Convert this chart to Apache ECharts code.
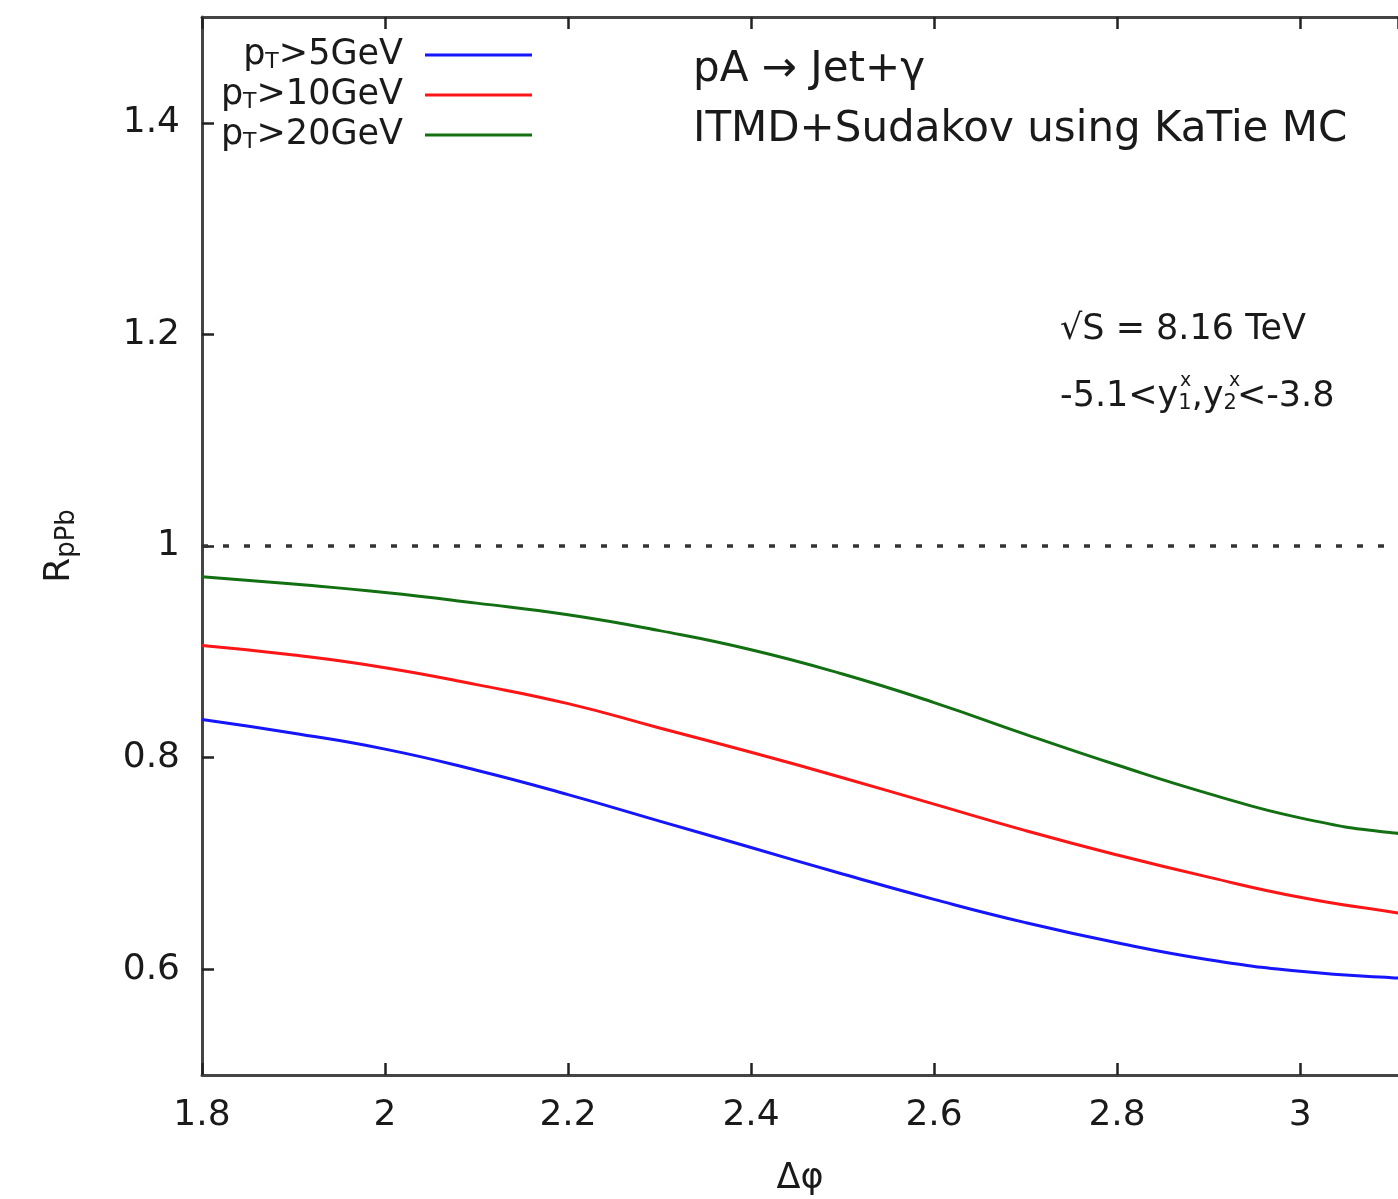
<!DOCTYPE html>
<html>
<head>
<meta charset="utf-8">
<script src="https://cdn.jsdelivr.net/npm/echarts@6/dist/echarts.min.js"></script>
<style>
html,body{margin:0;padding:0;background:#fff;}
#chart{width:1398px;height:1199px;}
</style>
</head>
<body>
<div id="chart"></div>
<script>
// Δφ sample points
const phi = [1.8, 1.9, 2.0, 2.1, 2.2, 2.3, 2.4, 2.5, 2.6, 2.7, 2.8, 2.9, 3.0, 3.1, 3.1416];
// R_pPb values
const pt5  = [0.836, 0.823, 0.808, 0.788, 0.765, 0.740, 0.715, 0.690, 0.666, 0.644, 0.625, 0.609, 0.598, 0.592, 0.591];
const pt10 = [0.906, 0.897, 0.885, 0.869, 0.851, 0.828, 0.805, 0.781, 0.756, 0.731, 0.708, 0.687, 0.668, 0.654, 0.649];
const pt20 = [0.971, 0.964, 0.956, 0.946, 0.935, 0.920, 0.902, 0.879, 0.852, 0.822, 0.793, 0.766, 0.743, 0.729, 0.727];
const seriesNames = ['pT>5GeV', 'pT>10GeV', 'pT>20GeV'];
const yTicks = [0.6, 0.8, 1, 1.2, 1.4];
const refLine = 1;
// visible x range (the plot is cut at the right edge of the picture)
const xMin = 1.8, xMax = 3.107;

const FONT = 'DejaVu Sans';
const AX = '#444';
const TXT = '#1a1a1a';

const chart = echarts.init(document.getElementById('chart'));

function mk(name, vals, color) {
  return {
    name: name,
    type: 'line',
    smooth: 0.5,
    symbol: 'none',
    clip: true,
    data: phi.map((x, i) => [x, vals[i]]),
    lineStyle: { color: color, width: 3 },
    itemStyle: { color: color },
    z: 3
  };
}

const s5 = mk(seriesNames[0], pt5, '#1515ff');
s5.markLine = {
  silent: true,
  symbol: 'none',
  label: { show: false },
  lineStyle: { color: '#333', width: 3.5, type: [6, 15] },
  data: [{ yAxis: refLine }]
};

const option = {
  backgroundColor: '#fff',
  animation: false,
  grid: { left: 202, top: 17, right: 0, bottom: 124, containLabel: false, outerBoundsMode: 'none' },
  legend: {
    data: seriesNames,
    orient: 'vertical',
    left: 213,
    top: 35,
    padding: 0,
    itemGap: 0,
    align: 'right',
    icon: 'rect',
    itemWidth: 107,
    itemHeight: 3,
    formatter: function (n) { return n.replace('pT', 'p{sub|T}'); },
    textStyle: {
      fontFamily: FONT, fontSize: 35, color: TXT,
      width: 190, align: 'right', lineHeight: 40, padding: [0, 17, 0, 0],
      rich: { sub: { fontFamily: FONT, fontSize: 22, color: TXT, padding: [14, 0, 0, 0] } }
    }
  },
  xAxis: [{
    type: 'value', min: xMin, max: xMax, interval: 0.2,
    position: 'bottom',
    name: 'Δφ', nameLocation: 'middle', nameGap: 86,
    nameTextStyle: { fontFamily: FONT, fontSize: 35, color: TXT },
    axisLine: { show: true, lineStyle: { color: AX, width: 3 } },
    axisTick: { show: true, inside: true, length: 12, lineStyle: { color: '#222', width: 2.5 } },
    axisLabel: { showMaxLabel: false, margin: 23, fontFamily: FONT, fontSize: 36, color: TXT },
    splitLine: { show: false }
  }, {
    type: 'value', min: xMin, max: xMax, interval: 0.2,
    position: 'top',
    axisLine: { show: true, lineStyle: { color: AX, width: 3 } },
    axisTick: { show: true, inside: true, length: 12, lineStyle: { color: '#222', width: 2.5 } },
    axisLabel: { show: false },
    splitLine: { show: false }
  }],
  yAxis: {
    type: 'value', min: 0.5, max: 1.5,
    name: 'R{sub|pPb}', nameLocation: 'middle', nameGap: 122, nameRotate: 90,
    nameTextStyle: {
      fontFamily: FONT, fontSize: 36, color: TXT,
      rich: { sub: { fontFamily: FONT, fontSize: 26, color: TXT, padding: [14, 0, 0, 0] } }
    },
    axisLine: { show: true, lineStyle: { color: AX, width: 3 } },
    axisTick: { show: true, inside: true, length: 12, customValues: yTicks, lineStyle: { color: '#222', width: 2.5 } },
    axisLabel: { margin: 22, customValues: yTicks, fontFamily: FONT, fontSize: 36, color: TXT },
    splitLine: { show: false }
  },
  graphic: [
    { type: 'text', left: 693, top: 49, style: { text: 'pA → Jet+γ', font: '42px "DejaVu Sans"', fill: TXT } },
    { type: 'text', left: 693, top: 109, style: { text: 'ITMD+Sudakov using KaTie MC', font: '42px "DejaVu Sans"', fill: TXT } },
    { type: 'text', left: 1060, top: 312, style: { text: '√S = 8.16 TeV', font: '35px "DejaVu Sans"', fill: TXT } },
    { type: 'text', left: 1060, top: 379, style: {
        text: '-5.1<y{sub|1},y{sub|2}<-3.8', font: '35px "DejaVu Sans"', fill: TXT,
        rich: { sub: { fontFamily: FONT, fontSize: 21, fill: TXT, padding: [14, 0, 0, 0] } }
    } },
    { type: 'text', left: 1180, top: 372, style: { text: 'x', font: '19px "DejaVu Sans"', fill: TXT } },
    { type: 'text', left: 1229, top: 372, style: { text: 'x', font: '19px "DejaVu Sans"', fill: TXT } }
  ],
  series: [
    s5,
    mk(seriesNames[1], pt10, '#ff1515'),
    mk(seriesNames[2], pt20, '#127012')
  ]
};
chart.setOption(option);
</script>
</body>
</html>
